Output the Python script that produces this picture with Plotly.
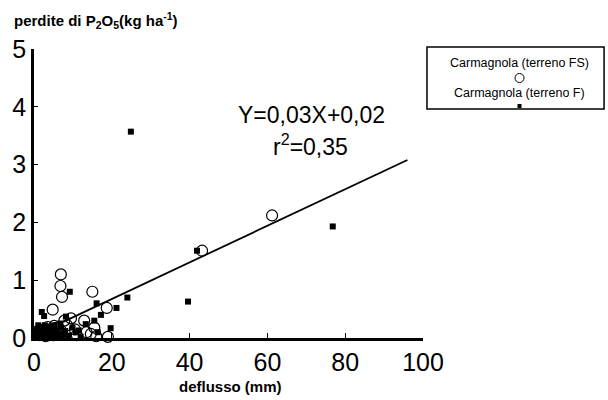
import plotly.graph_objects as go

# Carmagnola (terreno FS) - open circles
fs_x = [6.9, 6.8, 7.2, 15.0, 4.8, 18.7, 43.2, 61.2, 12.9, 15.5, 14.6, 9.5, 7.8,
        1.5, 2.5, 3.5, 4.5, 5.2, 6.0, 7.0, 3.0, 5.0, 8.5, 13.5, 16.0, 11.0, 19.0, 10.5, 4.0]
fs_y = [1.10, 0.90, 0.71, 0.80, 0.49, 0.52, 1.51, 2.12, 0.30, 0.18, 0.07, 0.34, 0.30,
        0.05, 0.12, 0.19, 0.15, 0.21, 0.18, 0.12, 0.03, 0.05, 0.22, 0.10, 0.03, 0.05, 0.02, 0.15, 0.08]

# Carmagnola (terreno F) - filled squares
f_x = [24.9, 76.8, 41.9, 39.6, 9.2, 16.1, 21.2, 24.0, 17.2, 15.5, 19.7, 8.2, 2.0, 2.6,
       9.9, 10.8, 13.3, 16.4,
       0.5, 1.0, 1.5, 2.0, 2.5, 3.0, 3.5, 4.0, 4.5, 5.0, 5.5, 6.0, 6.5, 7.0, 7.5, 8.0,
       0.8, 1.3, 1.8, 2.3, 2.8, 3.3, 3.8, 4.3, 4.8, 5.3, 5.8, 6.3, 6.8, 7.3, 0.3, 1.1,
       2.1, 3.1, 4.1, 5.1, 6.1, 8.8, 11.5, 12.0]
f_y = [3.57, 1.93, 1.51, 0.63, 0.80, 0.60, 0.52, 0.70, 0.40, 0.30, 0.17, 0.37, 0.45, 0.38,
       0.18, 0.10, 0.24, 0.10,
       0.02, 0.08, 0.04, 0.12, 0.06, 0.15, 0.03, 0.10, 0.20, 0.05, 0.14, 0.09, 0.02, 0.18, 0.07, 0.12,
       0.16, 0.01, 0.19, 0.03, 0.22, 0.07, 0.17, 0.02, 0.10, 0.22, 0.01, 0.06, 0.25, 0.04, 0.12, 0.22,
       0.00, 0.00, 0.00, 0.00, 0.00, 0.04, 0.13, 0.02]

# regression line endpoints (as drawn)
reg_x = [7.5, 96.0]
reg_y = [0.28, 3.08]

x_ticks = [0, 20, 40, 60, 80, 100]
y_ticks = [0, 1, 2, 3, 4, 5]

FONT = "Liberation Sans, Arial, sans-serif"

fig = go.Figure()
fig.add_trace(go.Scatter(x=reg_x, y=reg_y, mode="lines",
                         line=dict(color="black", width=1.8), showlegend=False))
fig.add_trace(go.Scatter(x=fs_x, y=fs_y, mode="markers", cliponaxis=False,
                         marker=dict(symbol="circle-open", size=11, color="black",
                                     line=dict(width=1.2, color="black")),
                         showlegend=False))
fig.add_trace(go.Scatter(x=f_x, y=f_y, mode="markers", cliponaxis=False,
                         marker=dict(symbol="square", size=6, color="black"),
                         showlegend=False))

fig.update_layout(
    width=608, height=400,
    margin=dict(l=32, r=185, t=49, b=62),
    paper_bgcolor="white", plot_bgcolor="white",
    font=dict(family=FONT, color="black"),
    xaxis=dict(range=[0, 100], tickvals=x_ticks, ticks="inside", ticklen=5,
               tickwidth=1, tickcolor="black", showline=True, linewidth=2.5,
               linecolor="black", showgrid=False, zeroline=False,
               tickfont=dict(size=25, family=FONT)),
    yaxis=dict(range=[0, 5], tickvals=y_ticks, ticks="inside", ticklen=4,
               tickwidth=1, tickcolor="black", showline=True, linewidth=2.5,
               linecolor="black", showgrid=False, zeroline=False,
               tickfont=dict(size=25, family=FONT)),
)

# axis titles
fig.add_annotation(xref="paper", yref="paper", x=-0.057, y=1.0, yshift=29,
                   xanchor="left", yanchor="middle", showarrow=False,
                   text="<b>perdite di P<sub>2</sub>O<sub>5</sub>(kg ha<sup>-1</sup>)</b>",
                   font=dict(size=15, family=FONT))
fig.add_annotation(xref="paper", yref="paper", x=(230 - 32) / 391, y=0, yshift=-48,
                   xanchor="center", yanchor="middle", showarrow=False,
                   text="<b>deflusso (mm)</b>", font=dict(size=15, family=FONT))

# equation
fig.add_annotation(xref="paper", yref="paper", x=(311 - 32) / 391, y=(338 - 115) / 289,
                   xanchor="center", yanchor="middle", showarrow=False,
                   text="Y=0,03X+0,02", font=dict(size=23, family=FONT))
fig.add_annotation(xref="paper", yref="paper", x=(310 - 32) / 391, y=(338 - 145) / 289,
                   xanchor="center", yanchor="middle", showarrow=False,
                   text="r<sup>2</sup>=0,35", font=dict(size=23, family=FONT))

# legend box (pixel to paper conversion)
def px(xp):
    return (xp - 32) / 391

def py(yp):
    return (338 - yp) / 289

fig.add_shape(type="rect", xref="paper", yref="paper",
              x0=px(427), x1=px(605), y0=py(47), y1=py(109),
              line=dict(color="black", width=1.5), fillcolor="white", layer="below")
fig.add_annotation(xref="paper", yref="paper", x=px(520), y=py(63),
                   xanchor="center", yanchor="middle", showarrow=False,
                   text="Carmagnola (terreno FS)", font=dict(size=12.5, family=FONT))
fig.add_annotation(xref="paper", yref="paper", x=px(520), y=py(93),
                   xanchor="center", yanchor="middle", showarrow=False,
                   text="Carmagnola (terreno F)", font=dict(size=12.5, family=FONT))
fig.add_shape(type="circle", xref="paper", yref="paper", xsizemode="pixel", ysizemode="pixel",
              xanchor=px(520), yanchor=py(78), x0=-4.5, x1=4.5, y0=-4.5, y1=4.5,
              line=dict(color="black", width=1))
fig.add_shape(type="rect", xref="paper", yref="paper", xsizemode="pixel", ysizemode="pixel",
              xanchor=px(520), yanchor=py(106), x0=-2, x1=2, y0=-2, y1=2,
              line=dict(color="black", width=0), fillcolor="black")

fig.write_html("out.html")
